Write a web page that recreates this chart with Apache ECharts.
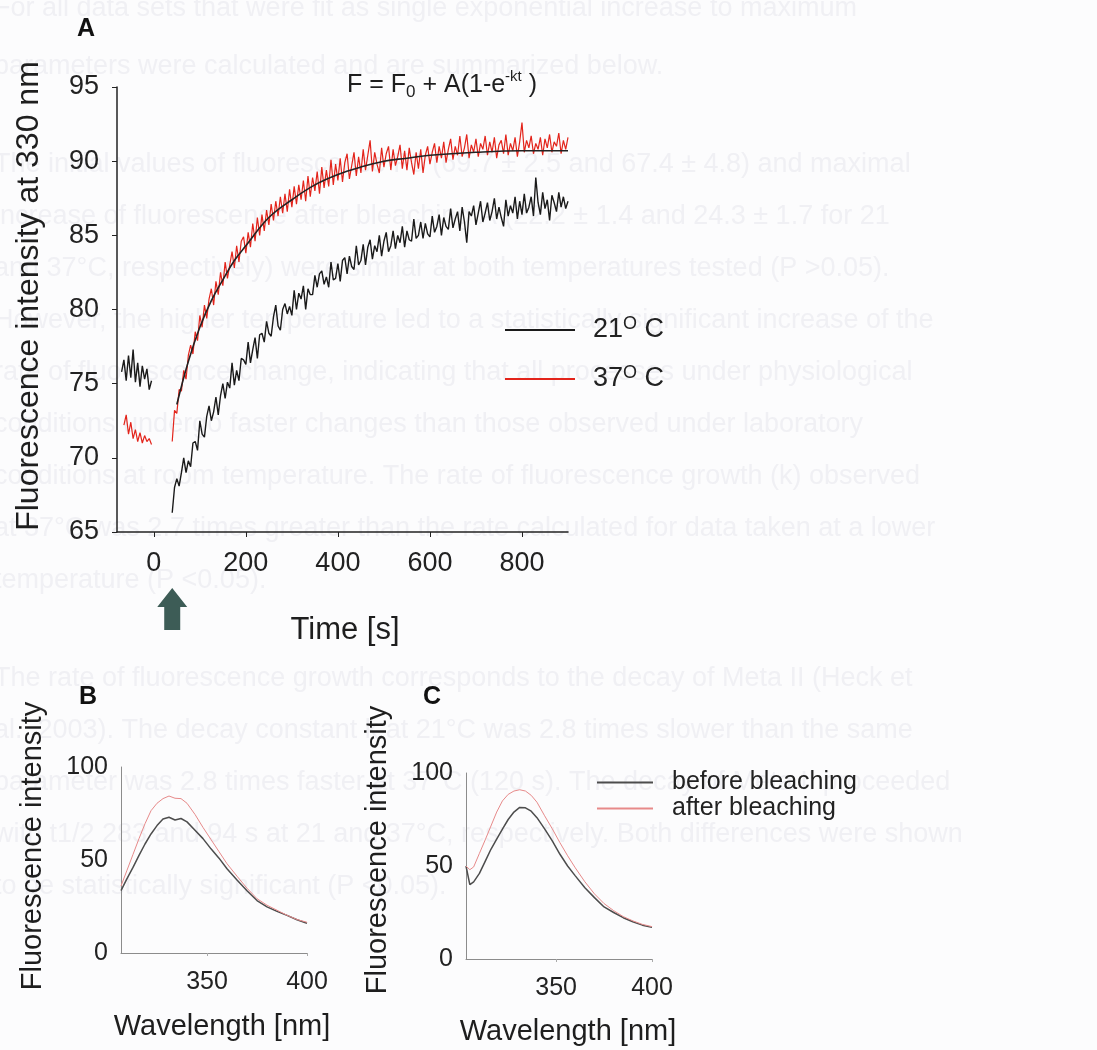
<!DOCTYPE html>
<html>
<head>
<meta charset="utf-8">
<title>Rhodopsin fluorescence after bleaching</title>
<script src="https://cdn.jsdelivr.net/npm/echarts@6.0.0/dist/echarts.min.js"></script>
<style>
  html, body { margin: 0; padding: 0; background: #fcfcfd; }
  #main { width: 1097px; height: 1050px; }
</style>
</head>
<body>
<div id="main"></div>
<script>
const FONT = "'Liberation Sans', Arial, sans-serif";

// panel A: time course at 330 nm (pre-bleach baseline, then recovery)
const tPre = [-70, -65, -60, -55, -50, -45, -40, -35, -30, -25, -20, -15, -10, -5];
const black21Pre = [75.8, 76.6, 75.2, 76.9, 75.4, 77.3, 75.1, 76.4, 74.8, 76.2, 75.3, 76.0, 74.6, 75.2];
const tPreRed = [-65, -60, -55, -50, -45, -40, -35, -30, -25, -20, -15, -10, -5];
const red37Pre = [72.2, 72.9, 71.6, 72.4, 71.3, 71.9, 71.1, 71.7, 71.0, 71.5, 71.1, 71.3, 70.9];

const tPost = [40, 45, 50, 55, 60, 65, 70, 75, 80, 85, 90, 95, 100, 105, 110, 115, 120, 125, 130, 135, 140,
  145, 150, 155, 160, 165, 170, 175, 180, 185, 190, 195, 200, 205, 210, 215, 220, 225, 230, 235, 240,
  245, 250, 255, 260, 265, 270, 275, 280, 285, 290, 295, 300, 305, 310, 315, 320, 325, 330, 335, 340,
  345, 350, 355, 360, 365, 370, 375, 380, 385, 390, 395, 400, 405, 410, 415, 420, 425, 430, 435, 440,
  445, 450, 455, 460, 465, 470, 475, 480, 485, 490, 495, 500, 505, 510, 515, 520, 525, 530, 535, 540,
  545, 550, 555, 560, 565, 570, 575, 580, 585, 590, 595, 600, 605, 610, 615, 620, 625, 630, 635, 640,
  645, 650, 655, 660, 665, 670, 675, 680, 685, 690, 695, 700, 705, 710, 715, 720, 725, 730, 735, 740,
  745, 750, 755, 760, 765, 770, 775, 780, 785, 790, 795, 800, 805, 810, 815, 820, 825, 830, 835, 840,
  845, 850, 855, 860, 865, 870, 875, 880, 885, 890, 895, 900];
const black21 = [66.3, 68.0, 68.6, 68.1, 69.0, 70.0, 69.0, 69.8, 69.4, 71.0, 71.1, 70.5, 72.5, 71.6, 71.4, 72.8, 73.5, 72.5, 73.1, 74.1, 72.9,
  74.2, 75.0, 74.0, 75.1, 74.7, 76.4, 74.9, 75.9, 75.2, 76.7, 76.6, 76.3, 77.8, 76.4, 77.3, 78.1, 76.7, 78.3, 78.4, 77.8,
  79.2, 78.4, 78.2, 79.5, 80.3, 78.9, 78.6, 80.0, 80.4, 79.7, 80.2, 79.6, 81.3, 80.0, 81.1, 80.7, 81.6, 80.0, 81.4, 81.0,
  81.0, 82.3, 81.5, 82.4, 82.6, 81.7, 82.2, 81.5, 83.2, 82.0, 82.1, 83.1, 81.9, 83.3, 83.5, 82.4, 83.6, 82.9, 82.7, 84.3,
  83.0, 83.3, 84.4, 83.0, 84.2, 84.7, 83.4, 84.3, 83.9, 85.0, 83.6, 84.6, 85.2, 83.9, 84.3, 85.3, 84.1, 85.0, 84.5, 85.6,
  84.2, 85.3, 84.7, 84.6, 86.1, 84.8, 85.0, 85.9, 84.8, 85.8, 85.1, 84.9, 86.3, 85.2, 85.6, 86.4, 85.0, 86.2, 85.6, 85.4,
  86.8, 85.5, 86.1, 86.6, 85.3, 86.9, 85.9, 84.5, 86.6, 86.3, 87.0, 85.7, 86.5, 87.3, 85.9, 86.5, 87.2, 86.0, 86.6, 87.5,
  86.1, 86.9, 86.2, 85.6, 87.4, 86.3, 87.0, 86.5, 87.6, 86.1, 87.3, 86.4, 87.8, 86.5, 86.9, 87.6, 86.3, 88.9, 87.2, 86.4,
  87.9, 86.8, 87.4, 86.0, 87.7, 87.2, 86.6, 87.9, 86.9, 87.6, 86.8, 87.3];
const red37 = [71.1, 73.2, 73.0, 74.6, 74.5, 75.9, 75.3, 76.9, 77.6, 77.0, 78.5, 77.9, 79.6, 78.8, 80.3, 79.4, 80.7, 81.4, 80.3, 81.9, 81.0,
  82.5, 81.6, 83.2, 82.1, 83.0, 83.9, 82.8, 84.3, 83.2, 84.6, 84.9, 83.8, 85.2, 84.2, 85.8, 84.6, 86.2, 85.0, 86.4, 85.3,
  86.7, 85.7, 87.1, 86.0, 87.3, 86.3, 87.6, 86.5, 87.8, 86.6, 88.1, 86.9, 88.3, 87.1, 88.4, 87.4, 88.7, 87.3, 89.0, 87.6,
  88.9, 88.0, 89.3, 87.8, 89.6, 88.2, 89.4, 88.3, 90.1, 88.4, 89.8, 88.7, 90.2, 88.6, 89.9, 90.5, 88.8, 89.7, 90.6, 89.0,
  90.3, 89.2, 90.8, 89.4, 90.4, 91.4, 89.3, 90.6, 89.8, 89.2, 90.9, 89.6, 90.5, 91.0, 89.4, 90.8, 89.7, 90.3, 91.1, 89.5,
  90.7, 89.4, 90.9, 89.9, 89.1, 90.6, 89.5, 90.8, 89.2, 90.4, 91.0, 89.8, 90.6, 91.2, 89.9, 91.0, 90.2, 91.3, 89.9, 90.8,
  91.5, 90.1, 91.0, 90.4, 91.7, 90.3, 90.9, 91.8, 90.2, 91.1, 90.6, 91.5, 90.3, 91.2, 90.8, 91.7, 90.4, 91.3, 90.6, 91.6,
  90.2, 91.1, 91.4, 90.5, 91.8, 90.4, 91.2, 90.7, 91.6, 90.3, 91.3, 92.6, 90.6, 91.4, 90.9, 91.7, 90.5, 91.2, 90.8, 91.6,
  90.4, 91.5, 90.9, 91.8, 90.6, 91.3, 91.0, 91.9, 90.5, 91.4, 90.8, 91.6];

// single exponential fit drawn over the 37 C trace
const tFit = [50, 75, 100, 125, 150, 175, 200, 250, 300, 350, 400, 450, 500, 550, 600, 700, 800, 900];
const fit37 = [73.6, 76.5, 78.8, 80.6, 82.0, 83.3, 84.3, 86.2, 87.4, 88.4, 89.1, 89.6, 90.0, 90.2, 90.4, 90.6, 90.7, 90.7];

// panel B: emission spectra
const lamB = [307, 310, 313, 316, 319, 322, 325, 328, 331, 334, 337, 340, 344, 348, 352, 356, 360, 365, 370, 375, 380, 385, 390, 395, 400];
const beforeB = [33.5, 40, 46, 52.5, 58.6, 64, 68.5, 72, 73, 71.5, 72.3, 70.5, 66, 61.5, 56, 51, 45.3, 39.3, 33.5, 28.2, 24.8, 22.4, 20.2, 17.9, 16];
const afterB = [36, 44.5, 53, 61.5, 69.5, 76.5, 80.5, 83, 84.4, 83.2, 83, 80.5, 74.5, 67.5, 61, 54.5, 48, 41.3, 34.8, 29.2, 25.7, 23, 20.3, 18, 16.5];

// panel C: emission spectra
const lamC = [303, 305, 307, 310, 313, 316, 319, 322, 325, 328, 331, 334, 337, 340, 344, 348, 352, 356, 360, 365, 370, 375, 380, 385, 390, 395, 400];
const beforeC = [50, 40, 41.5, 46, 52.5, 59, 64.5, 69.8, 75, 79, 81.5, 81.3, 79.5, 76, 70, 63.5, 56.3, 50, 44.7, 38.3, 33, 28, 25, 22.2, 20, 18.2, 17];
const afterC = [50, 48, 49.5, 56.8, 64, 71.5, 79, 85, 88.5, 90.3, 91, 90.3, 88, 84.3, 77, 70, 62.5, 55.5, 49, 41.5, 35, 29.8, 26, 22.8, 20.5, 18.6, 17.4];

const ticksA = [0, 200, 400, 600, 800];
const ticksSpec = [350, 400];

// faint text showing through from the scanned page
const pageLines = [
  [10, "For all data sets that were fit as single exponential increase to maximum"],
  [68, "parameters were calculated and are summarized below."],
  [166, "The initial values of fluorescence F0 (69.7 ± 2.5 and 67.4 ± 4.8) and maximal"],
  [218, "increase of fluorescence after bleaching A (22.2 ± 1.4 and 24.3 ± 1.7 for 21"],
  [270, "and 37°C, respectively) were similar at both temperatures tested (P >0.05)."],
  [322, "However, the higher temperature led to a statistically significant increase of the"],
  [374, "rate of fluorescence change, indicating that all processes under physiological"],
  [426, "conditions undergo faster changes than those observed under laboratory"],
  [478, "conditions at room temperature. The rate of fluorescence growth (k) observed"],
  [530, "at 37°C was 2.7 times greater than the rate calculated for data taken at a lower"],
  [582, "temperature (P <0.05)."],
  [680, "The rate of fluorescence growth corresponds to the decay of Meta II (Heck et"],
  [732, "al., 2003). The decay constant k at 21°C was 2.8 times slower than the same"],
  [784, "parameter was 2.8 times faster at 37°C (120 s). The decay of Meta II proceeded"],
  [836, "with t1/2 283 and 94 s at 21 and 37°C, respectively. Both differences were shown"],
  [888, "to be statistically significant (P <0.05)."]
];

function pair(xs, ys) {
  return xs.map((x, i) => [x, ys[i]]);
}

function lineSeries(name, xi, data, color, width, z) {
  return {
    name: name,
    type: 'line',
    xAxisIndex: xi,
    yAxisIndex: xi,
    data: data,
    showSymbol: false,
    symbol: 'none',
    z: z || 2,
    lineStyle: { color: color, width: width },
    itemStyle: { color: color }
  };
}

function specX(grid, min) {
  return {
    gridIndex: grid, type: 'value', min: min, max: 400,
    axisLine: { onZero: false, lineStyle: { color: '#8c8c8c', width: 1 } },
    axisTick: { customValues: ticksSpec, length: 3, lineStyle: { color: '#aaa' } },
    axisLabel: { customValues: ticksSpec, fontSize: 25, color: '#222', margin: 17, fontFamily: FONT },
    splitLine: { show: false }
  };
}

function specY(grid) {
  return {
    gridIndex: grid, type: 'value', min: 0, max: 100, interval: 50,
    axisLine: { show: true, onZero: false, lineStyle: { color: '#8c8c8c', width: 1 } },
    axisTick: { show: false },
    axisLabel: { fontSize: 25, color: '#222', margin: 13, fontFamily: FONT },
    splitLine: { show: false }
  };
}

const chart = echarts.init(document.getElementById('main'));

const option = {
  backgroundColor: '#fcfcfd',
  animation: false,
  textStyle: { fontFamily: FONT },
  grid: [
    { left: 117, top: 87, width: 451, height: 445 },
    { left: 121, top: 767, width: 186, height: 186 },
    { left: 466, top: 773, width: 186, height: 186 }
  ],
  xAxis: [
    {
      gridIndex: 0, type: 'value', min: -80, max: 900,
      axisLine: { onZero: false, lineStyle: { color: '#222', width: 1.5 } },
      axisTick: { customValues: ticksA, length: 5, lineStyle: { color: '#222' } },
      axisLabel: { customValues: ticksA, fontSize: 27, color: '#222', margin: 18, fontFamily: FONT },
      splitLine: { show: false }
    },
    specX(1, 307),
    specX(2, 303)
  ],
  yAxis: [
    {
      gridIndex: 0, type: 'value', min: 65, max: 95, interval: 5,
      axisLine: { show: true, onZero: false, lineStyle: { color: '#222', width: 1.5 } },
      axisTick: { show: true, length: 5, lineStyle: { color: '#222' } },
      axisLabel: { fontSize: 27, color: '#222', margin: 18, fontFamily: FONT },
      splitLine: { show: false }
    },
    specY(1),
    specY(2)
  ],
  legend: [
    {
      data: ['21', '37'],
      left: 500, top: 310, orient: 'vertical',
      itemWidth: 70, itemHeight: 2, itemGap: 19, icon: 'rect',
      formatter: name => name + '{s|O} C',
      textStyle: {
        fontSize: 27, color: '#222', lineHeight: 30, padding: [0, 0, 0, 13],
        rich: { s: { fontSize: 18, verticalAlign: 'top', lineHeight: 30 } }
      }
    },
    {
      data: ['before bleaching', 'after bleaching'],
      left: 592, top: 765, orient: 'vertical',
      itemWidth: 56, itemHeight: 2, itemGap: 1, icon: 'rect',
      textStyle: { fontSize: 25, color: '#222', lineHeight: 25, padding: [0, 0, 0, 14] }
    }
  ],
  series: [
    lineSeries('21', 0, pair(tPre, black21Pre), '#1a1a1a', 1.4, 2),
    lineSeries('21', 0, pair(tPost, black21), '#1a1a1a', 1.4, 2),
    lineSeries('37', 0, pair(tPreRed, red37Pre), '#e3241b', 1.2, 3),
    lineSeries('37', 0, pair(tPost, red37), '#e3241b', 1.2, 3),
    Object.assign(lineSeries('fit', 0, pair(tFit, fit37), '#222', 1.6, 4), { smooth: 0.4 }),
    lineSeries('before bleaching', 1, pair(lamB, beforeB), '#4d4d4d', 1.5, 2),
    lineSeries('after bleaching', 1, pair(lamB, afterB), '#e78a8a', 1, 3),
    lineSeries('before bleaching', 2, pair(lamC, beforeC), '#4d4d4d', 1.5, 2),
    lineSeries('after bleaching', 2, pair(lamC, afterC), '#e78a8a', 1, 3)
  ]
};

chart.setOption(option);

// static texts, titles and the bleaching arrow
const elements = pageLines.map(l => ({
  type: 'text', left: -6, top: l[0] - 15, z: -10, silent: true,
  style: { text: l[1], fill: '#f0f0f4', font: '27px ' + FONT }
}));

function label(text, x, y, size, opts) {
  return Object.assign({
    type: 'text', x: x, y: y, z: 10,
    style: { text: text, fill: '#1e1e1e', font: size + 'px ' + FONT, align: 'center', verticalAlign: 'middle' }
  }, opts || {});
}

function panelLetter(text, x, y) {
  return {
    type: 'text', x: x, y: y, z: 10,
    style: { text: text, fill: '#111', font: 'bold 25px ' + FONT, align: 'center', verticalAlign: 'middle' }
  };
}

elements.push(
  panelLetter('A', 86, 29),
  panelLetter('B', 88, 697),
  panelLetter('C', 432, 697),
  label('Fluorescence intensity at 330 nm', 29, 296, 32, { rotation: Math.PI / 2 }),
  label('Time [s]', 345, 630, 31),
  label('Fluorescence intensity', 33, 846, 29, { rotation: Math.PI / 2 }),
  label('Fluorescence intensity', 378, 850, 29, { rotation: Math.PI / 2 }),
  label('Wavelength [nm]', 222, 1027, 29),
  label('Wavelength [nm]', 568, 1032, 29),
  {
    type: 'text', x: 347, y: 85, z: 10,
    style: {
      text: 'F = F{sub|0} + A(1-e{sup|-kt} )',
      fill: '#1e1e1e', font: '25px ' + FONT, verticalAlign: 'middle',
      rich: {
        sub: { fontSize: 17, verticalAlign: 'bottom', lineHeight: 32, padding: [9, 0, 0, 0] },
        sup: { fontSize: 15, verticalAlign: 'top', lineHeight: 32 }
      }
    }
  }
);

const ax = chart.convertToPixel({ xAxisIndex: 0 }, 40);
elements.push({
  type: 'polygon', z: 10,
  shape: {
    points: [[ax - 15, 607], [ax, 588], [ax + 15, 607], [ax + 8, 607], [ax + 8, 630], [ax - 8, 630], [ax - 8, 607]]
  },
  style: { fill: '#3d5c56' }
});

chart.setOption({ graphic: { elements: elements } });
window.addEventListener('resize', () => chart.resize());
</script>
</body>
</html>
